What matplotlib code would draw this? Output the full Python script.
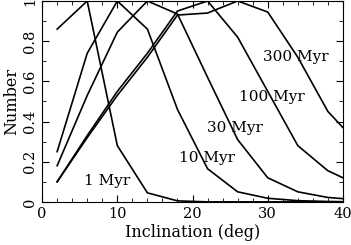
import matplotlib
matplotlib.use("Agg")
import matplotlib.pyplot as plt
from matplotlib.ticker import MultipleLocator

# inclination bins (deg); last bin lies past the axis edge and gets clipped
incl = [2, 6, 10, 14, 18, 22, 26, 30, 34, 38, 42]

n_1myr = [0.86, 1.0, 0.28, 0.045, 0.005, 0.0, 0.0, 0.0, 0.0, 0.0, 0.0]
n_10myr = [0.25, 0.74, 1.0, 0.86, 0.46, 0.165, 0.05, 0.018, 0.006, 0.002, 0.0]
n_30myr = [0.18, 0.53, 0.845, 1.0, 0.935, 0.62, 0.31, 0.12, 0.05, 0.022, 0.01]
n_100myr = [0.10, 0.33, 0.55, 0.74, 0.95, 1.0, 0.82, 0.55, 0.28, 0.155, 0.085]
n_300myr = [0.10, 0.32, 0.53, 0.72, 0.93, 0.94, 1.0, 0.945, 0.72, 0.45, 0.29]

curves = [n_1myr, n_10myr, n_30myr, n_100myr, n_300myr]
names = ["1 Myr", "10 Myr", "30 Myr", "100 Myr", "300 Myr"]
label_x = [8.7, 21.9, 25.7, 30.5, 33.8]
label_y = [0.105, 0.22, 0.37, 0.52, 0.72]

plt.rcParams["font.family"] = "DejaVu Serif"

fig = plt.figure(figsize=(3.51, 2.45), dpi=100)
ax = fig.add_axes([0.12, 0.176, 0.857, 0.82])

for y in curves:
    ax.plot(incl, y, color="black", lw=1.2)

for name, x, y in zip(names, label_x, label_y):
    ax.text(x, y, name, ha="center", va="center", fontsize=11)

ax.set_xlim(0, 40)
ax.set_ylim(0, 1)
ax.xaxis.set_major_locator(MultipleLocator(10))
ax.xaxis.set_minor_locator(MultipleLocator(2))
ax.yaxis.set_major_locator(MultipleLocator(0.2))
ax.yaxis.set_minor_locator(MultipleLocator(0.1))
ax.tick_params(which="both", direction="in", top=True, right=True, labelsize=10.5)
ax.tick_params(which="major", length=5)
ax.tick_params(which="minor", length=3)
ax.set_yticks([0, 0.2, 0.4, 0.6, 0.8, 1])
ax.set_yticklabels(["0", "0.2", "0.4", "0.6", "0.8", "1"], rotation=90, va="center")
ax.set_xlabel("Inclination (deg)", fontsize=11.5, labelpad=2)
ax.set_ylabel("Number", fontsize=11.5, labelpad=2)

fig.savefig("out.png", dpi=100)
